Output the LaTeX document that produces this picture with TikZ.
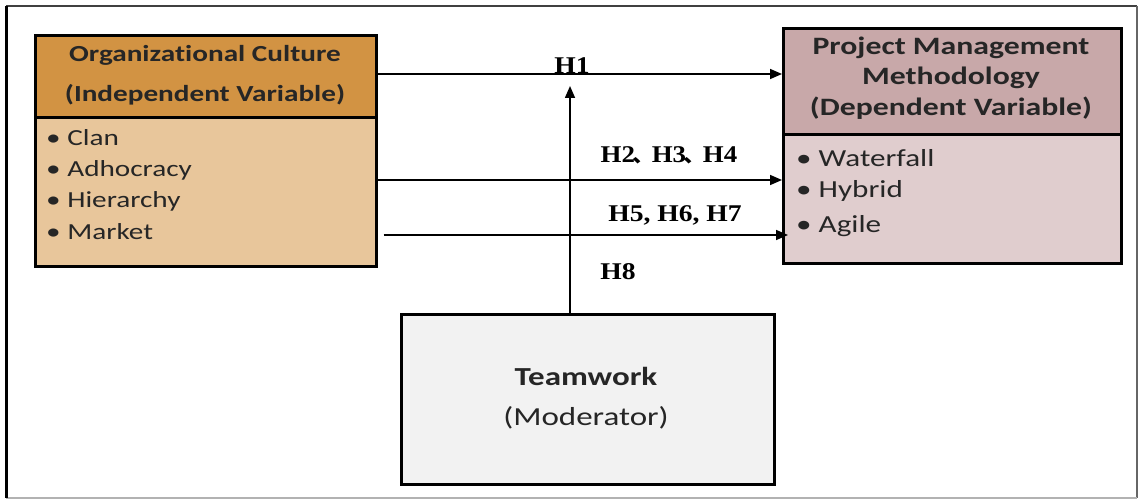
\documentclass[tikz,border=0pt]{standalone}
\usepackage{fontspec}
\setmainfont{Carlito}[Ligatures=NoCommon]
\newfontfamily\hfont{Liberation Serif}
\newfontfamily\cjk{Noto Sans CJK SC}
\usetikzlibrary{arrows.meta,calc}
\definecolor{ochead}{HTML}{D29343}
\definecolor{ocbody}{HTML}{E8C69B}
\definecolor{pmhead}{HTML}{C8A8A9}
\definecolor{pmbody}{HTML}{E0CDCE}
\definecolor{twfill}{HTML}{F2F2F2}
\newcommand\sx[1]{\scalebox{1.27}[1]{#1}}
\newcommand\cjkc{{\cjk\fontsize{20}{24}\selectfont\kern-2pt 、\kern-3pt}}
\tikzset{
  boxpart/.style={draw=black, line width=2.6pt, anchor=north west, inner sep=0pt},
  hdtext/.style={font=\fontsize{23}{28}\selectfont\bfseries, text=black!85, inner sep=0pt},
  ittext/.style={font=\fontsize{23}{28}\selectfont, text=black!85, inner sep=0pt, anchor=west},
  hlab/.style={font=\hfont\fontsize{24}{28}\selectfont\bfseries, inner sep=0pt},
  arr/.style={line width=1.6pt, -{Triangle[length=12pt,width=10pt]}},
}
\begin{document}
\begin{tikzpicture}[x=1pt,y=-1pt]
\useasboundingbox (0,0) rectangle (1139,500);
\fill[white] (0,0) rectangle (1139,500);
% outer frame
\draw[black!75, line width=2pt] (6,6) -- (1137,6);
\draw[black!60, line width=2pt] (1137,6) -- (1137,498);
\draw[black!30, line width=2pt] (6,498) -- (1137,498);
\draw[black, line width=3pt] (6,6) -- (6,498);

% left box
\node[boxpart, fill=ochead, minimum width=341pt, minimum height=82pt] (och) at (34,34) {};
\node[boxpart, fill=ocbody, minimum width=341pt, minimum height=149pt] (ocb) at (34,116) {};
\node[hdtext] (oct1) at (205,55) {\sx{Organizational Culture}};
\node[hdtext] (oct2) at (205,95) {\sx{(Independent Variable)}};
\node[ittext] (oc1) at (46,138) {\sx{\textbullet\ Clan}};
\node[ittext] (oc2) at (46,170) {\sx{\textbullet\ Adhocracy}};
\node[ittext] (oc3) at (46,201) {\sx{\textbullet\ Hierarchy}};
\node[ittext] (oc4) at (46,232) {\sx{\textbullet\ Market}};

% right box
\node[boxpart, fill=pmhead, minimum width=338pt, minimum height=106pt] (pmh) at (782,27) {};
\node[boxpart, fill=pmbody, minimum width=338pt, minimum height=129pt] (pmb) at (782,133) {};
\node[hdtext, font=\fontsize{25}{30}\selectfont\bfseries] (pmt1) at (951,48) {\sx{Project Management}};
\node[hdtext, font=\fontsize{25}{30}\selectfont\bfseries] (pmt2) at (951,78) {\sx{Methodology}};
\node[hdtext, font=\fontsize{25}{30}\selectfont\bfseries] (pmt3) at (951,108) {\sx{(Dependent Variable)}};
\node[ittext, font=\fontsize{24.5}{30}\selectfont] (pm1) at (796,158) {\sx{\textbullet\ Waterfall}};
\node[ittext, font=\fontsize{24.5}{30}\selectfont] (pm2) at (796,191) {\sx{\textbullet\ Hybrid}};
\node[ittext, font=\fontsize{24.5}{30}\selectfont] (pm3) at (796,226) {\sx{\textbullet\ Agile}};

% teamwork box
\node[boxpart, fill=twfill, minimum width=373pt, minimum height=170pt] (tw) at (400,313) {};
\node[font=\fontsize{26}{30}\selectfont\bfseries, text=black!85, inner sep=0pt] (twt1) at (586,376) {\sx{Teamwork}};
\node[font=\fontsize{26}{30}\selectfont, text=black!85, inner sep=0pt] (twt2) at (586,418) {\sx{(Moderator)}};

% helper coordinates
\coordinate (y74) at (0,74);
\coordinate (y180) at (0,180);
\coordinate (y235) at (0,235);
\coordinate (x570) at (570,0);
\coordinate (vtop) at (570,86);

% arrows
\draw[arr] (och.east |- y74) -- (pmh.west |- y74);
\draw[arr] (ocb.east |- y180) -- (pmb.west |- y180);
\draw[arr] ($(ocb.east |- y235)+(6,0)$) -- ($(pmb.west |- y235)+(6,0)$);
\draw[arr] (tw.north -| x570) -- (vtop);

% labels
\node[hlab] (h1) at (572,66) {\scalebox{1.15}[1]{H1}};
\node[hlab] (h2) at (669,155) {\scalebox{1.12}[1]{H2\cjkc H3\cjkc H4}};
\node[hlab] (h5) at (675,215) {\scalebox{1.15}[1]{H5, H6, H7}};
\node[hlab] (h8) at (618,272) {\scalebox{1.15}[1]{H8}};
\end{tikzpicture}
\end{document}
